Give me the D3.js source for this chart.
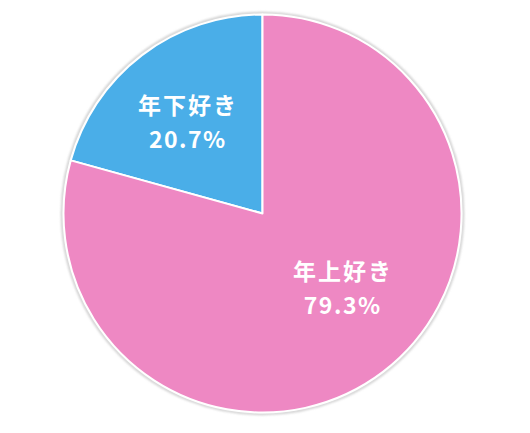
<!DOCTYPE html>
<html><head><meta charset="utf-8">
<script src="https://cdn.jsdelivr.net/npm/d3@7"></script>
<style>
html,body{margin:0;padding:0;background:#fff;}
svg{display:block;}
</style></head>
<body>
<svg id="chart" width="530" height="433"></svg>
<script>
const categories = ["年下好き", "年上好き"];
const values = [20.7, 79.3];
const labels = ["20.7%", "79.3%"];

const colors = ["#4AAEE8", "#EE88C3"];
const W = 530, H = 433, cx = 262.5, cy = 213.5, R = 199;
// label placement tweaks (layout only)
const labelPos = [{r: 118, dx: -4, dy: 3}, {r: 118, dx: 8, dy: -19}];

const svg = d3.select("#chart");
const defs = svg.append("defs");
const f = defs.append("filter").attr("id", "blur").attr("x", "-10%").attr("y", "-10%").attr("width", "120%").attr("height", "120%");
f.append("feGaussianBlur").attr("stdDeviation", 1.2);

const g = svg.append("g").attr("transform", `translate(${cx},${cy})`);

g.append("circle").attr("r", R + 1.5).attr("fill", "none")
  .attr("stroke", "#cfcfcf").attr("stroke-width", 2.5).attr("filter", "url(#blur)");

// counter-clockwise from 12 o'clock
const pie = d3.pie().sort(null).startAngle(0).endAngle(-2 * Math.PI).value(d => d)(values);
const arc = d3.arc().innerRadius(0).outerRadius(R);

g.selectAll("path.slice").data(pie).join("path")
  .attr("class", "slice")
  .attr("d", arc)
  .attr("fill", (d, i) => colors[i])
  .attr("stroke", "#fff").attr("stroke-width", 2).attr("stroke-linejoin", "round");

pie.forEach((d, i) => {
  const p = labelPos[i];
  const a = d3.arc().innerRadius(p.r).outerRadius(p.r).centroid(d);
  const x = a[0] + p.dx, y = a[1] + p.dy;
  const t = g.append("text")
    .attr("text-anchor", "middle")
    .attr("fill", "#fff")
    .style("font-family", "'Noto Sans CJK JP', 'Noto Sans', sans-serif")
    .style("font-weight", "bold")
    .style("font-size", "23px");
  t.append("tspan").attr("x", x + 1).attr("y", y - 8.8).style("letter-spacing", "2px").text(categories[i]);
  t.append("tspan").attr("x", x + 0.75).attr("y", y + 25.9).style("letter-spacing", "1.5px").text(labels[i]);
});
</script>
</body></html>
